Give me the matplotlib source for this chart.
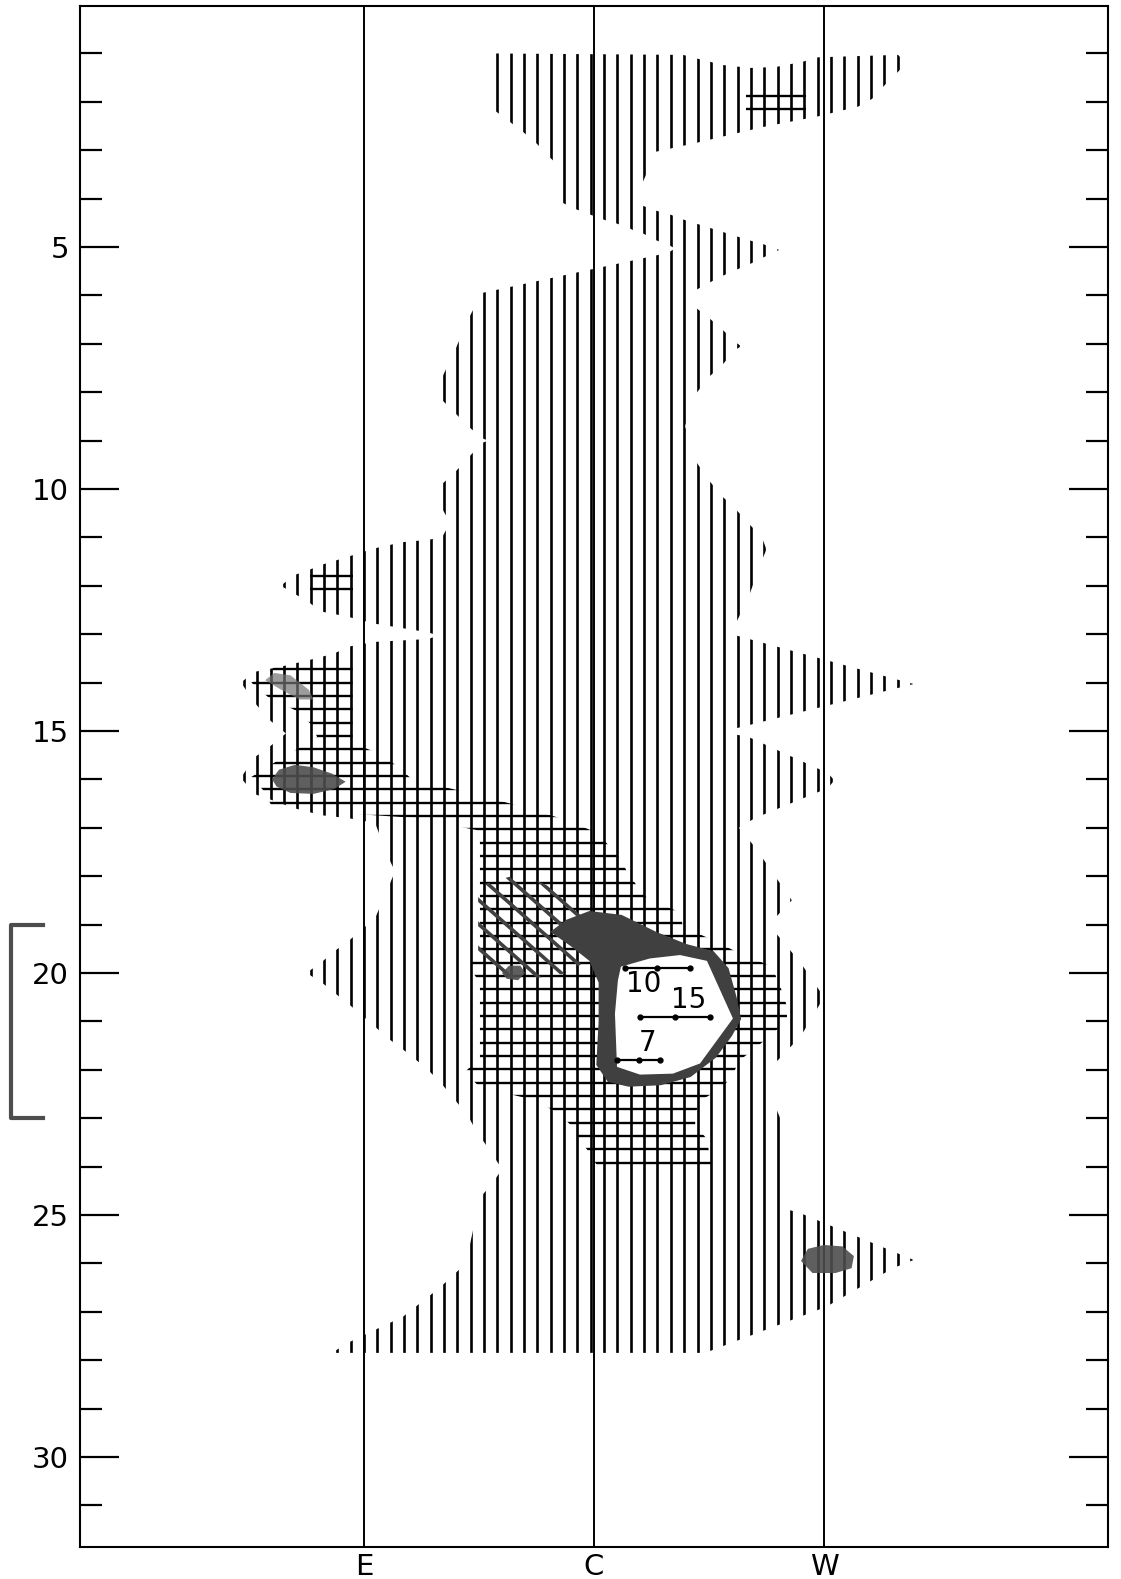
import numpy as np
import matplotlib.pyplot as plt
from matplotlib.patches import Polygon
from matplotlib.transforms import blended_transform_factory

# stations across the sheet (C = 0, one unit between stations)
stations = ['E', 'C', 'W']
station_x = [-1.0, 0.0, 1.0]
major_rows = [5, 10, 15, 20, 25, 30]
all_rows = list(range(1, 32))

# upper hatched block, outline as x / row
top_x = [-0.452, 0.387, 0.443, 0.561, 0.678, 0.791, 0.909, 0.974, 1.322, 1.356,
         1.322, 1.265, 1.209, 1.148, 1.035, 0.974, 0.735, 0.443, 0.270, 0.213,
         0.174, 0.152, 0.096, 0.039, -0.022, -0.078, -0.135, -0.150, -0.170,
         -0.196, -0.252, -0.309, -0.370, -0.426, -0.452]
top_row = [1.0, 1.03, 1.1, 1.24, 1.3, 1.28, 1.17, 1.08, 1.03, 1.2,
           1.38, 1.65, 1.94, 2.1, 2.23, 2.3, 2.52, 2.85, 3.03, 3.65,
           4.66, 4.61, 4.51, 4.43, 4.32, 4.22, 4.09, 4.06, 3.25,
           3.13, 2.85, 2.62, 2.4, 2.2, 2.1]

# main hatched body
main_x = [-0.487, 0.322, 0.352, 0.326, 0.270, 0.213, 0.191, 0.213, 0.270, 0.326,
          0.387, 0.674, 0.735, 0.805,
          0.730, 0.670, 0.613, 0.557, 0.496, 0.439, 0.409, 0.439, 0.496, 0.557,
          0.613, 0.640, 0.613, 0.557, 0.496, 0.439, 0.396, 0.439, 0.496, 0.557,
          0.613, 0.670, 0.730, 0.750, 0.730, 0.670, 0.613, 0.583, 0.613, 1.390,
          0.613, 0.587, 0.670, 1.017, 1.045, 1.017,
          0.70, 0.63, 0.70, 0.86, 0.76, 0.90, 1.00, 0.90, 0.76, 0.775,
          0.835, 0.85, 0.896, 1.390, 1.30, 1.009, 0.483,
          -1.139, -1.074, -0.83, -0.67, -0.557, -0.496, -0.435, -0.40, -0.435,
          -0.52, -0.548, -0.609, -0.661, -0.722, -0.783, -0.839, -0.896, -0.952,
          -1.070, -1.126, -1.183, -1.250, -1.183, -1.126, -1.070, -1.009, -0.952,
          -0.896, -0.865, -0.896, -0.952, -1.070, -1.187, -1.300, -1.417, -1.478,
          -1.535, -1.478, -1.417, -1.340, -1.417, -1.478, -1.535, -1.478, -1.361,
          -1.243, -1.130, -1.070, -0.957, -0.722, -0.678, -0.722, -0.957, -1.070,
          -1.187, -1.243, -1.304, -1.362, -1.304, -1.243, -1.187, -1.070, -0.957,
          -0.835, -0.722, -0.661, -0.626, -0.661, -0.685, -0.661, -0.604, -0.548,
          -0.487, -0.461, -0.487, -0.548, -0.604, -0.661, -0.685, -0.661, -0.604,
          -0.548]
main_row = [5.95, 5.12, 5.03, 4.96, 4.86, 4.72, 4.43, 4.15, 4.25, 4.32,
            4.43, 4.86, 4.94, 5.06,
            5.23, 5.37, 5.48, 5.60, 5.75, 5.90, 6.05, 6.24, 6.45, 6.70,
            6.96, 7.05, 7.13, 7.44, 7.70, 8.06, 8.70, 9.40, 9.80, 10.15,
            10.40, 10.70, 11.00, 11.25, 11.47, 12.26, 12.81, 12.93, 13.02, 14.03,
            14.95, 15.05, 15.12, 15.87, 16.02, 16.18,
            16.80, 17.00, 17.40, 18.50, 19.00, 19.80, 20.50, 21.30, 22.00, 22.60,
            23.30, 24.90, 24.96, 25.93, 26.10, 26.90, 27.85,
            27.85, 27.65, 27.10, 26.50, 26.00, 24.65, 24.30, 24.05, 23.80,
            23.20, 22.95, 22.60, 22.30, 22.00, 21.76, 21.55, 21.35, 21.11,
            20.63, 20.42, 20.20, 20.00, 19.77, 19.54, 19.35, 19.10, 18.87,
            18.25, 17.90, 17.60, 16.90, 16.80, 16.74, 16.60, 16.40, 16.30,
            15.97, 15.55, 15.35, 15.05, 14.75, 14.40, 14.00, 13.78, 13.67,
            13.54, 13.40, 13.26, 13.16, 13.10, 13.03, 12.96, 12.78, 12.64,
            12.53, 12.33, 12.16, 12.00, 11.78, 11.68, 11.57, 11.40, 11.23,
            11.10, 11.05, 11.00, 10.70, 10.40, 10.15, 9.90, 9.65, 9.36,
            9.05, 9.00, 8.95, 8.70, 8.43, 8.16, 7.93, 7.70, 7.13,
            6.50]

# cross-hatched zones
cross_top_x = [0.66, 0.92, 0.92, 0.66]
cross_top_row = [1.83, 1.83, 2.21, 2.21]
cross_r12_x = [-1.235, -1.05, -1.05, -1.235]
cross_r12_row = [11.76, 11.76, 12.11, 12.11]
cross_mid_x = [-1.37, -1.05, -1.05, -0.943, -0.857, -0.791, -0.552, -0.322, -0.135,
               0.013, 0.061, 0.113, 0.143, 0.187, 0.230, 0.374, 0.387, 0.517, 0.635,
               0.778, 0.796, 0.822, 0.839, 0.839, 0.778, 0.709, 0.635, 0.604, 0.561,
               0.465, 0.44, 0.44, 0.491, 0.50, 0.517, 0.022, -0.022, -0.065, -0.100,
               -0.152, -0.265, -0.50, -0.56, -0.496, -0.496, -0.545, -0.496, -0.496,
               -0.509, -0.77, -1.396, -1.439, -1.49, -1.396, -1.30, -1.204, -1.235,
               -1.30, -1.417, -1.49, -1.40]
cross_mid_row = [13.6, 13.6, 15.25, 15.45, 15.72, 16.0, 16.27, 16.55, 16.82,
                 17.1, 17.35, 17.63, 17.9, 18.2, 18.45, 18.75, 19.05, 19.32, 19.6,
                 19.87, 20.15, 20.42, 20.7, 20.97, 21.25, 21.52, 21.8, 22.08, 22.36,
                 22.63, 22.9, 23.15, 23.43, 23.7, 24.05, 24.05, 23.7, 23.43, 23.15,
                 22.9, 22.62, 22.35, 22.04, 21.75, 20.2, 19.87, 19.55, 17.3,
                 17.05, 16.8, 16.6, 16.22, 15.95, 15.67, 15.4, 15.12, 14.84,
                 14.57, 14.3, 14.0, 13.72]
cross_r26_x = [0.83, 0.93, 1.21, 1.31, 1.16, 0.88]
cross_r26_row = [25.9, 25.5, 25.5, 25.9, 26.3, 26.3]

# dark patches
dark_r16_x = [-1.40, -1.37, -1.30, -1.22, -1.14, -1.08, -1.13, -1.22, -1.32, -1.38]
dark_r16_row = [16.0, 15.8, 15.7, 15.75, 15.88, 16.05, 16.2, 16.3, 16.28, 16.15]
dark_r14_x = [-1.43, -1.39, -1.32, -1.24, -1.22, -1.28, -1.36]
dark_r14_row = [13.95, 13.8, 13.85, 14.15, 14.35, 14.35, 14.15]
dark_r20_x = [-0.40, -0.37, -0.32, -0.30, -0.33, -0.38]
dark_r20_row = [20.0, 19.85, 19.85, 20.0, 20.15, 20.12]
dark_r26_x = [0.90, 0.93, 1.00, 1.08, 1.13, 1.12, 1.05, 0.95]
dark_r26_row = [25.95, 25.7, 25.62, 25.65, 25.85, 26.1, 26.2, 26.2]

# dark ring and the clear core inside it
ring_x = [-0.12, -0.02, 0.12, 0.27, 0.40, 0.52, 0.585, 0.62, 0.64, 0.60, 0.53,
          0.42, 0.29, 0.15, 0.06, 0.01, 0.02, 0.02, -0.02, -0.10, -0.19]
ring_row = [18.9, 18.72, 18.8, 19.15, 19.4, 19.55, 19.9, 20.5, 20.95, 21.3, 21.75,
            22.15, 22.32, 22.35, 22.25, 21.9, 21.0, 20.2, 19.75, 19.45, 19.15]
core_x = [0.117, 0.243, 0.374, 0.491, 0.604, 0.461, 0.343, 0.20, 0.10, 0.091, 0.104]
core_row = [19.87, 19.7, 19.63, 19.75, 20.94, 21.87, 22.08, 22.1, 21.94, 20.84, 20.15]

# zone of diagonal dark strokes
streak_x = [-0.504, -0.322, -0.148, 0.026, 0.026, -0.104, -0.322, -0.504]
streak_row = [18.2, 17.95, 18.3, 18.8, 19.5, 20.0, 20.15, 19.9]

# scale bars inside the core
bar_labels = ['10', '15', '7']
bar_row = [19.9, 20.9, 21.8]
bar_left = [0.135, 0.200, 0.100]
bar_right = [0.417, 0.504, 0.287]

bracket_rows = [19, 23]

# hatch grid (drawing style)
col_step, row_step = 0.058, 0.2755
hatch_cols = -1 + col_step * np.arange(-10, 44)
hatch_rows = 14 + row_step * np.arange(-50, 40)

fig = plt.figure(figsize=(11.21, 15.79), dpi=100)
ax = fig.add_axes([0.0714, 0.0203, 0.917, 0.9759])
ax.set_xlim(-2.235, 2.235)
ax.set_ylim(31.86, 0.02)


def clip_zone(xs, rows):
    p = Polygon(np.column_stack([xs, rows]), closed=True, fc='none', ec='none')
    ax.add_patch(p)
    return p


def vhatch(xs, rows):
    lc = ax.vlines(hatch_cols, 0, 32, colors='k', lw=1.9, zorder=2)
    lc.set_clip_path(clip_zone(xs, rows))


def hhatch(xs, rows):
    lc = ax.hlines(hatch_rows, -3, 3, colors='k', lw=1.7, zorder=2)
    lc.set_clip_path(clip_zone(xs, rows))


vhatch(top_x, top_row)
vhatch(main_x, main_row)
for xs, rs in [(cross_top_x, cross_top_row), (cross_r12_x, cross_r12_row),
               (cross_mid_x, cross_mid_row), (cross_r26_x, cross_r26_row)]:
    hhatch(xs, rs)

# diagonal strokes
zone = clip_zone(streak_x, streak_row)
for c in np.arange(18.6, 22.3, 0.5):
    xx = np.array([-0.7, 0.2])
    ln, = ax.plot(xx, 4.2 * xx + c, color='0.25', lw=2.6, zorder=3)
    ln.set_clip_path(zone)

for xs, rs in [(dark_r16_x, dark_r16_row), (dark_r20_x, dark_r20_row),
               (dark_r26_x, dark_r26_row)]:
    ax.fill(xs, rs, color='0.3', alpha=0.9, lw=0, zorder=3)
ax.fill(dark_r14_x, dark_r14_row, color='0.45', alpha=0.7, lw=0, zorder=3)

ax.fill(ring_x, ring_row, color='0.25', lw=0, zorder=3)
ax.fill(core_x, core_row, color='white', lw=0, zorder=4)

for lab, r, l, rr in zip(bar_labels, bar_row, bar_left, bar_right):
    m = (l + rr) / 2
    ax.plot([l, m, rr], [r, r, r], color='k', lw=1.6, marker='o', ms=3.5, zorder=5)
    if lab == '10':
        ax.text(l + 0.28 * (rr - l), r + 0.33, lab, fontsize=20, ha='center', va='center', zorder=6)
    elif lab == '15':
        ax.text(l + 0.70 * (rr - l), r - 0.34, lab, fontsize=20, ha='center', va='center', zorder=6)
    else:
        ax.text(l + 0.72 * (rr - l), r - 0.35, lab, fontsize=20, ha='center', va='center', zorder=6)

for x in station_x:
    ax.axvline(x, color='k', lw=1.4, zorder=1.5)

for s in ax.spines.values():
    s.set_linewidth(1.5)

ax.set_yticks(major_rows)
ax.set_yticklabels([str(r) for r in major_rows])
ax.set_yticks([r for r in all_rows if r % 5], minor=True)
ax.tick_params(axis='y', which='major', direction='in', length=28, width=1.6,
               left=True, right=True, labelsize=21, pad=8)
ax.tick_params(axis='y', which='minor', direction='in', length=16, width=1.6,
               left=True, right=True)
ax.set_xticks(station_x)
ax.set_xticklabels(stations)
ax.tick_params(axis='x', length=0, labelsize=21, pad=4)

tr = blended_transform_factory(ax.transAxes, ax.transData)
b0, b1 = bracket_rows
ax.plot([-0.036, -0.067, -0.067, -0.036], [b0, b0, b1, b1], transform=tr,
        clip_on=False, color='0.3', lw=3)

fig.savefig('out.png', dpi=100)
